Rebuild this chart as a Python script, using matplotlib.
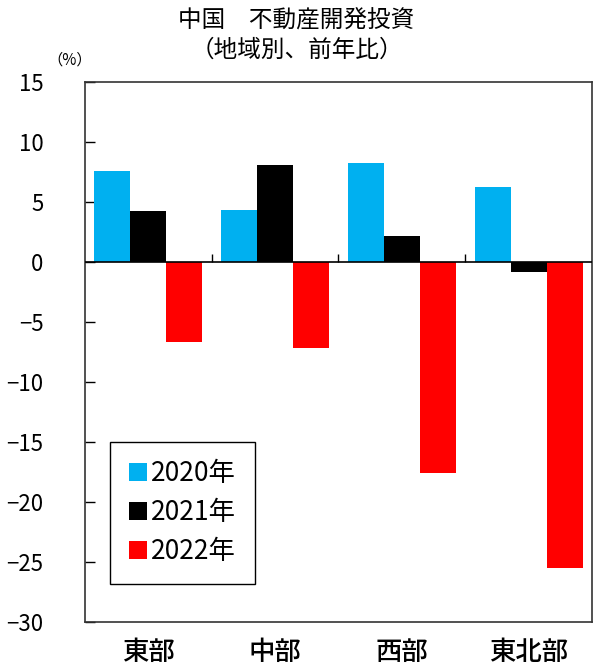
import matplotlib.pyplot as plt
import numpy as np

plt.rcParams['font.family'] = ['Noto Sans CJK JP', 'DejaVu Sans']

regions = ["東部", "中部", "西部", "東北部"]
years = ["2020年", "2021年", "2022年"]
y2020 = [7.6, 4.3, 8.2, 6.2]
y2021 = [4.2, 8.1, 2.2, -0.8]
y2022 = [-6.7, -7.2, -17.6, -25.5]
colors = ["#00B0F0", "#000000", "#FF0000"]

fig = plt.figure(figsize=(5.93, 6.71), dpi=100)
ax = fig.add_axes([0.1433, 0.073, 0.855, 0.805])

x = np.arange(len(regions))
w = 0.284
for i, (vals, c, lab) in enumerate(zip([y2020, y2021, y2022], colors, years)):
    ax.bar(x + (i - 1) * w, vals, width=w, color=c, label=lab, zorder=2)

ax.set_xlim(-0.5, 3.5)
ax.set_ylim(-30, 15)
ax.set_yticks(range(-30, 16, 5))
ax.tick_params(axis='y', direction='in', length=7, width=1, pad=30, labelsize=16)
ax.set_xticks(x)
ax.set_xticklabels(regions, fontsize=19, fontweight='medium')
ax.tick_params(axis='x', length=0, pad=12)

# zero line with small ticks at the category boundaries
ax.axhline(0, color='black', lw=1.2, zorder=3)
ax.vlines([0.5, 1.5, 2.5], 0, 0.7, color='black', lw=1, zorder=3)

for s in ax.spines.values():
    s.set_linewidth(1.2)
    s.set_color('#333333')

leg = ax.legend(loc='lower left', bbox_to_anchor=(0.05, 0.071), fontsize=19,
                fancybox=False, edgecolor='black', framealpha=1,
                handlelength=0.7, handleheight=0.7, handletextpad=0.15,
                borderpad=0.7, borderaxespad=0, labelspacing=0.45)
leg.get_frame().set_linewidth(1)

fig.text(0.5, 0.968, "中国\u3000不動産開発投資", ha='center', va='center', fontsize=17)
fig.text(0.5, 0.925, "（地域別、前年比）", ha='center', va='center', fontsize=17)
fig.text(0.118, 0.91, "（%）", ha='center', va='center', fontsize=11)

fig.savefig("out.png", dpi=100)
